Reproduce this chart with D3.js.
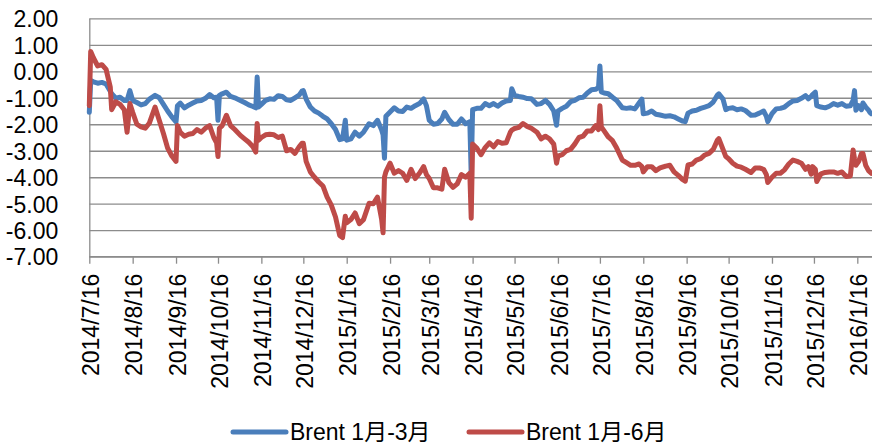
<!DOCTYPE html>
<html>
<head>
<meta charset="utf-8">
<script src="https://cdn.jsdelivr.net/npm/d3@7/dist/d3.min.js"></script>
<style>
	body { margin: 0; background: #fff; }
	svg text { font-family: "Liberation Sans", "Noto Sans CJK SC", sans-serif; fill: #000; }
</style>
</head>
<body>
<svg id="chart" width="872" height="446"></svg>
<script>
// fechas muestreadas (una fila por mes)
var dates = [
	"2014/7/16", "2014/7/17", "2014/7/19", "2014/7/22", "2014/7/25", "2014/7/28", "2014/7/31",
	"2014/8/1", "2014/8/4", "2014/8/7", "2014/8/10", "2014/8/12", "2014/8/14", "2014/8/16", "2014/8/19", "2014/8/22", "2014/8/25", "2014/8/28",
	"2014/9/1", "2014/9/4", "2014/9/7", "2014/9/10", "2014/9/13", "2014/9/16", "2014/9/17", "2014/9/19", "2014/9/22", "2014/9/25", "2014/9/28",
	"2014/10/1", "2014/10/4", "2014/10/7", "2014/10/10", "2014/10/13", "2014/10/15", "2014/10/16", "2014/10/17", "2014/10/19", "2014/10/22", "2014/10/25", "2014/10/28",
	"2014/11/1", "2014/11/4", "2014/11/7", "2014/11/10", "2014/11/12", "2014/11/13", "2014/11/14", "2014/11/16", "2014/11/19", "2014/11/22", "2014/11/25", "2014/11/28",
	"2014/12/1", "2014/12/4", "2014/12/7", "2014/12/10", "2014/12/13", "2014/12/15", "2014/12/16", "2014/12/18", "2014/12/21", "2014/12/24", "2014/12/27", "2014/12/30",
	"2015/1/2", "2015/1/5", "2015/1/8", "2015/1/11", "2015/1/13", "2015/1/15", "2015/1/16", "2015/1/19", "2015/1/22", "2015/1/25", "2015/1/28",
	"2015/2/1", "2015/2/4", "2015/2/7", "2015/2/10", "2015/2/11", "2015/2/12", "2015/2/13", "2015/2/16", "2015/2/19", "2015/2/22", "2015/2/25", "2015/2/28",
	"2015/3/3", "2015/3/6", "2015/3/9", "2015/3/12", "2015/3/14", "2015/3/16", "2015/3/19", "2015/3/22", "2015/3/25", "2015/3/27", "2015/3/30",
	"2015/4/2", "2015/4/5", "2015/4/8", "2015/4/11", "2015/4/14", "2015/4/15", "2015/4/16", "2015/4/19", "2015/4/22", "2015/4/25", "2015/4/28",
	"2015/5/1", "2015/5/4", "2015/5/7", "2015/5/10", "2015/5/13", "2015/5/14", "2015/5/16", "2015/5/19", "2015/5/22", "2015/5/25", "2015/5/28",
	"2015/6/1", "2015/6/4", "2015/6/7", "2015/6/10", "2015/6/13", "2015/6/15", "2015/6/16", "2015/6/19", "2015/6/22", "2015/6/25", "2015/6/28",
	"2015/7/1", "2015/7/4", "2015/7/7", "2015/7/10", "2015/7/13", "2015/7/15", "2015/7/16", "2015/7/17", "2015/7/19", "2015/7/22", "2015/7/25", "2015/7/28",
	"2015/8/1", "2015/8/4", "2015/8/7", "2015/8/10", "2015/8/13", "2015/8/15", "2015/8/16", "2015/8/19", "2015/8/22", "2015/8/25", "2015/8/28",
	"2015/9/1", "2015/9/4", "2015/9/7", "2015/9/10", "2015/9/13", "2015/9/15", "2015/9/17", "2015/9/20", "2015/9/23", "2015/9/26", "2015/9/29",
	"2015/10/2", "2015/10/5", "2015/10/8", "2015/10/9", "2015/10/12", "2015/10/14", "2015/10/16", "2015/10/19", "2015/10/22", "2015/10/25", "2015/10/28",
	"2015/11/1", "2015/11/4", "2015/11/7", "2015/11/10", "2015/11/12", "2015/11/13", "2015/11/16", "2015/11/19", "2015/11/22", "2015/11/25", "2015/11/28",
	"2015/12/1", "2015/12/4", "2015/12/7", "2015/12/10", "2015/12/12", "2015/12/14", "2015/12/15", "2015/12/17", "2015/12/18", "2015/12/21", "2015/12/24", "2015/12/27", "2015/12/30",
	"2016/1/2", "2016/1/5", "2016/1/8", "2016/1/11", "2016/1/13", "2016/1/14", "2016/1/15", "2016/1/17", "2016/1/19", "2016/1/20", "2016/1/22", "2016/1/24", "2016/1/25", "2016/1/26"
];

// Brent 1月-3月
var spread13 = [
	-1.55, -0.35, -0.40, -0.45, -0.42, -0.48, -0.75,
	-0.85, -1.02, -0.98, -1.10, -1.10, -0.73, -1.10, -1.18, -1.27, -1.22, -1.05,
	-0.91, -1.00, -1.25, -1.50, -1.72, -1.91, -1.30, -1.20, -1.38, -1.28, -1.20,
	-1.12, -1.10, -1.02, -0.88, -1.00, -0.98, -1.85, -0.91, -0.85, -0.79, -0.95, -1.00,
	-1.10, -1.18, -1.27, -1.33, -1.38, -0.22, -1.35, -1.25, -1.10, -1.04, -1.06, -0.92,
	-0.95, -1.08, -1.10, -1.00, -0.90, -0.75, -0.73, -1.05, -1.35, -1.50, -1.58, -1.70,
	-1.80, -1.98, -2.20, -2.58, -2.55, -1.85, -2.60, -2.55, -2.30, -2.45, -2.30,
	-1.98, -2.05, -1.85, -2.22, -2.40, -3.28, -1.70, -1.54, -1.38, -1.50, -1.52, -1.35,
	-1.40, -1.30, -1.22, -1.04, -1.30, -1.85, -2.00, -1.97, -1.80, -1.55, -1.82,
	-2.00, -2.00, -1.80, -1.98, -1.90, -3.90, -1.45, -1.40, -1.40, -1.22, -1.30,
	-1.22, -1.32, -1.20, -1.12, -1.10, -0.66, -0.91, -0.95, -0.98, -1.03, -1.04,
	-1.25, -1.22, -1.10, -1.25, -1.50, -2.04, -1.50, -1.40, -1.32, -1.15, -1.10,
	-1.00, -0.98, -0.82, -0.70, -0.68, -0.62, 0.20, -0.78, -0.82, -0.85, -0.98, -1.10,
	-1.38, -1.40, -1.38, -1.42, -1.20, -1.05, -1.60, -1.58, -1.50, -1.62, -1.65,
	-1.70, -1.68, -1.72, -1.80, -1.88, -1.90, -1.58, -1.50, -1.47, -1.40, -1.35,
	-1.30, -1.16, -0.90, -0.85, -1.05, -1.45, -1.40, -1.38, -1.45, -1.42, -1.48,
	-1.66, -1.65, -1.58, -1.50, -1.70, -1.90, -1.60, -1.42, -1.40, -1.35, -1.22,
	-1.12, -1.10, -1.02, -0.92, -1.04, -0.95, -0.88, -0.79, -1.30, -1.35, -1.38, -1.32, -1.22,
	-1.28, -1.22, -1.32, -1.30, -1.10, -0.73, -1.47, -1.30, -1.45, -1.20, -1.35, -1.47, -1.55, -1.60
];

// Brent 1月-6月
var spread16 = [
	-1.30, 0.75, 0.50, 0.20, 0.25, 0.07, -0.60,
	-1.45, -1.15, -1.25, -1.45, -2.30, -1.22, -1.55, -2.00, -2.10, -2.15, -1.95,
	-1.35, -1.85, -2.35, -2.90, -3.20, -3.40, -2.05, -2.30, -2.45, -2.38, -2.35,
	-2.20, -2.30, -2.15, -2.05, -2.50, -2.70, -3.22, -2.15, -2.05, -1.66, -2.05, -2.20,
	-2.42, -2.55, -2.68, -2.85, -3.05, -1.97, -2.60, -2.50, -2.40, -2.38, -2.40, -2.50,
	-2.45, -3.00, -2.95, -3.10, -2.85, -2.72, -2.72, -3.40, -3.80, -4.00, -4.18, -4.33,
	-4.75, -5.05, -5.50, -6.20, -6.28, -5.47, -5.72, -5.60, -5.35, -5.75, -5.60,
	-4.98, -5.00, -4.75, -5.60, -6.10, -4.00, -3.80, -3.47, -3.85, -3.75, -3.85, -4.12,
	-3.70, -4.05, -3.85, -3.60, -3.90, -4.05, -4.40, -4.40, -4.45, -3.70, -4.20,
	-4.38, -4.25, -3.90, -4.00, -3.85, -5.55, -2.75, -2.90, -3.15, -2.88, -2.70,
	-2.85, -2.65, -2.72, -2.70, -2.30, -2.22, -2.16, -2.12, -1.97, -2.08, -2.15,
	-2.30, -2.55, -2.45, -2.55, -2.75, -3.47, -3.20, -3.15, -3.00, -2.95, -2.75,
	-2.50, -2.45, -2.25, -2.25, -2.05, -2.20, -1.30, -2.10, -2.25, -2.48, -2.62, -2.90,
	-3.35, -3.45, -3.55, -3.55, -3.50, -3.60, -3.80, -3.60, -3.60, -3.75, -3.65,
	-3.58, -3.55, -3.80, -3.93, -4.08, -4.15, -3.54, -3.50, -3.35, -3.30, -3.16,
	-3.10, -2.95, -2.60, -2.54, -2.95, -3.22, -3.30, -3.47, -3.58, -3.62, -3.70,
	-3.82, -3.65, -3.65, -3.70, -3.90, -4.20, -4.00, -3.85, -3.85, -3.72, -3.50,
	-3.35, -3.40, -3.47, -3.70, -3.60, -3.88, -3.60, -3.70, -4.16, -3.87, -3.82, -3.80, -3.80,
	-3.85, -3.80, -3.97, -3.95, -2.97, -3.30, -3.55, -3.40, -3.10, -3.10, -3.55, -3.75, -3.80, -3.85
];

var seriesNames = ["Brent 1月-3月", "Brent 1月-6月"];
var seriesColors = ["#4a7ebb", "#be4b48"];

var xTickLabels = [
	"2014/7/16", "2014/8/16", "2014/9/16", "2014/10/16", "2014/11/16", "2014/12/16",
	"2015/1/16", "2015/2/16", "2015/3/16", "2015/4/16", "2015/5/16", "2015/6/16",
	"2015/7/16", "2015/8/16", "2015/9/16", "2015/10/16", "2015/11/16", "2015/12/16", "2016/1/16"
];
var xDomainEnd = "2016/1/26";
var yTicks = [2, 1, 0, -1, -2, -3, -4, -5, -6, -7];

var width = 872,
	plotLeft = 89.3,
	plotRight = 871.3,
	plotTop = 18.3,
	plotBottom = 256.7,
	gridColor = "#8c8c8c";

var parseDate = d3.timeParse("%Y/%m/%d");

var x = d3.scaleTime()
	.domain([parseDate(xTickLabels[0]), parseDate(xDomainEnd)])
	.range([plotLeft, plotRight]);

var y = d3.scaleLinear()
	.domain([d3.min(yTicks), d3.max(yTicks)])
	.range([plotBottom, plotTop]);

var svg = d3.select("#chart");

// rejilla horizontal
svg.append("g")
	.attr("class", "grid")
	.attr("transform", "translate(" + plotLeft + ",0)")
	.call(d3.axisLeft(y).tickValues(yTicks).tickSize(-(width - plotLeft)).tickFormat(""))
	.call(function(g) {
		g.select(".domain").remove();
		g.selectAll("line").attr("stroke", gridColor).attr("stroke-width", 1.3);
	});

// eje y
svg.append("g")
	.attr("class", "yAxis")
	.attr("transform", "translate(" + plotLeft + ",0)")
	.call(d3.axisLeft(y).tickValues(yTicks).tickSize(0).tickPadding(31)
		.tickFormat(function(d) { return d.toFixed(2); }))
	.call(function(g) {
		g.select(".domain").attr("stroke", gridColor).attr("stroke-width", 1.3);
		g.selectAll("text")
			.attr("font-size", 23)
			.attr("dy", "0.36em");
	});

// eje x con fechas giradas
svg.append("g")
	.attr("class", "xAxis")
	.attr("transform", "translate(0," + plotBottom + ")")
	.call(d3.axisBottom(x)
		.tickValues(xTickLabels.map(parseDate))
		.tickSize(7)
		.tickSizeOuter(0)
		.tickFormat(function(d, i) { return xTickLabels[i]; }))
	.call(function(g) {
		g.select(".domain").attr("stroke", gridColor).attr("stroke-width", 1.3)
			.attr("d", "M" + plotLeft + ",0H" + width);
		g.selectAll("line").attr("stroke", gridColor).attr("stroke-width", 1.3);
		g.selectAll("text")
			.attr("font-size", 23)
			.attr("text-anchor", "end")
			.attr("transform", "rotate(-90)")
			.attr("x", -17)
			.attr("y", 1)
			.attr("dy", "0.36em");
	});

var series = [spread13, spread16];

var line = d3.line()
	.x(function(d) { return x(d.date); })
	.y(function(d) { return y(d.value); });

series.forEach(function(values, i) {

	var points = values.map(function(v, j) {
		return { date: parseDate(dates[j]), value: v };
	});

	svg.append("path")
		.datum(points)
		.attr("fill", "none")
		.attr("stroke", seriesColors[i])
		.attr("stroke-width", 5)
		.attr("stroke-linejoin", "round")
		.attr("stroke-linecap", "round")
		.attr("d", line);
});

// leyenda
var legendX = [233, 469],
	legendY = 432;

var legend = svg.append("g").attr("class", "legend");

seriesNames.forEach(function(name, i) {

	legend.append("line")
		.attr("x1", legendX[i])
		.attr("x2", legendX[i] + 53)
		.attr("y1", legendY)
		.attr("y2", legendY)
		.attr("stroke", seriesColors[i])
		.attr("stroke-width", 5)
		.attr("stroke-linecap", "round");

	legend.append("text")
		.attr("x", legendX[i] + 57)
		.attr("y", legendY)
		.attr("dy", "0.36em")
		.attr("font-size", 23)
		.text(name);
});
</script>
</body>
</html>
